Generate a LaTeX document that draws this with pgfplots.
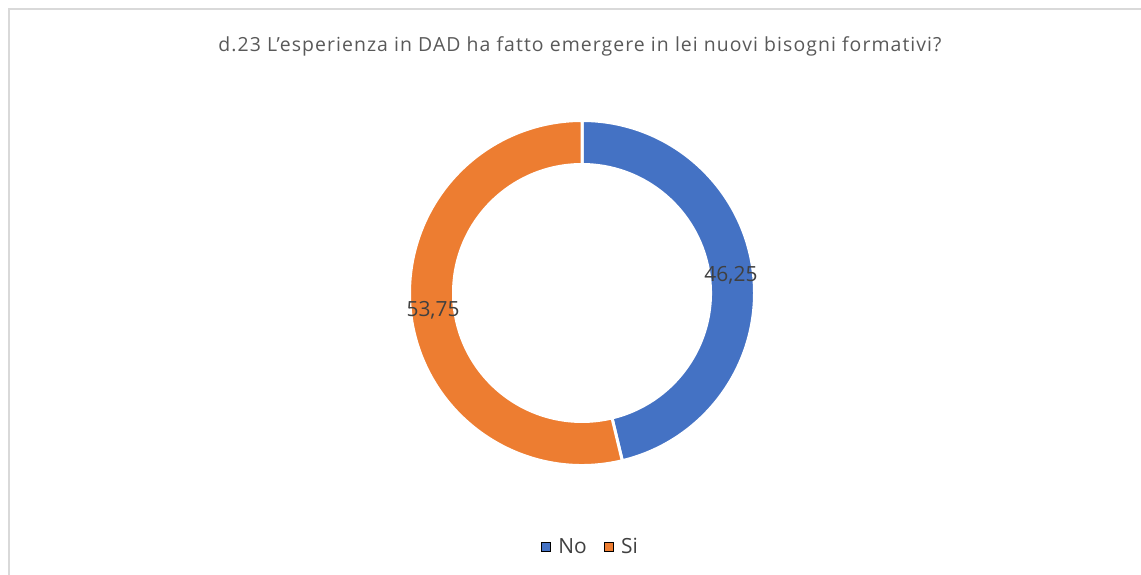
\documentclass[border=0pt]{standalone}
\usepackage{pgfplots}
\usepackage{pgfplotstable}
\pgfplotsset{compat=1.18}
\usepackage{fontspec}
\setmainfont{Open Sans}
\newfontfamily\titlefont{Open Sans}[LetterSpace=5.5]
\definecolor{cblue}{HTML}{4472C4}
\definecolor{corange}{HTML}{ED7D31}
\definecolor{ctitle}{HTML}{595959}
\definecolor{clabel}{HTML}{404040}
\definecolor{cframe}{HTML}{D9D9D9}

\pgfplotstableread{
label value
No 46.25
Si 53.75
}\datatable

\begin{document}
\begin{tikzpicture}
\pgfplotstablegetelem{0}{value}\of\datatable
\let\vNo\pgfplotsretval
\pgfmathsetmacro{\aEnd}{90-3.6*\vNo}
\pgfmathsetmacro{\mNo}{90-1.8*\vNo}
\pgfmathsetmacro{\mSi}{\aEnd-(360-3.6*\vNo)/2}
\begin{axis}[
  hide axis, scale only axis,
  x=1bp, y=1bp,
  xmin=0, xmax=1141, ymin=0, ymax=575,
  clip=false,
  legend style={at={(axis cs:524,28)}, anchor=west, draw=none, fill=none,
    inner sep=0pt, outer sep=0pt,
    nodes={inner sep=0pt, text=clabel},
    font=\fontsize{21}{25}\selectfont},
  legend columns=2,
  legend image code/.code={\fill[#1] (0bp,-4.5bp) rectangle (9bp,4.5bp);
     \path (-17bp,0bp) (17bp,0bp);},
]
\addlegendimage{fill=cblue}
\addlegendentry{No}
\addlegendimage{fill=corange}
\addlegendentry{Si}

\coordinate (bl) at (axis cs:0,0);
\coordinate (tr) at (axis cs:1141,575);

% frame
\draw[cframe, line width=1.5bp] (axis cs:9,0) -- (axis cs:9,566) -- (axis cs:1141,566);

% donut
\begin{scope}[shift={(axis cs:582,282)}]
\fill[cblue, draw=white, line width=3bp]
  (90:172.5bp) arc[start angle=90, end angle=\aEnd, radius=172.5bp]
  -- (\aEnd:128.5bp) arc[start angle=\aEnd, end angle=90, radius=128.5bp] -- cycle;
\fill[corange, draw=white, line width=3bp]
  (\aEnd:172.5bp) arc[start angle=\aEnd, end angle=-270, radius=172.5bp]
  -- (90:128.5bp) arc[start angle=90, end angle=360+\aEnd, radius=128.5bp] -- cycle;
\node[clabel, font=\fontsize{21}{25}\selectfont] at (\mNo:150bp) {46,25};
\node[clabel, font=\fontsize{21}{25}\selectfont] at (\mSi:150bp) {53,75};
\end{scope}

\node[ctitle, anchor=base, font=\titlefont\fontsize{19.5}{23}\selectfont] at (axis cs:580,523)
  {d.23 L’esperienza in DAD ha fatto emergere in lei nuovi bisogni formativi?};
\end{axis}
\pgfresetboundingbox
\path[use as bounding box] (bl) rectangle (tr);
\end{tikzpicture}%
\end{document}
